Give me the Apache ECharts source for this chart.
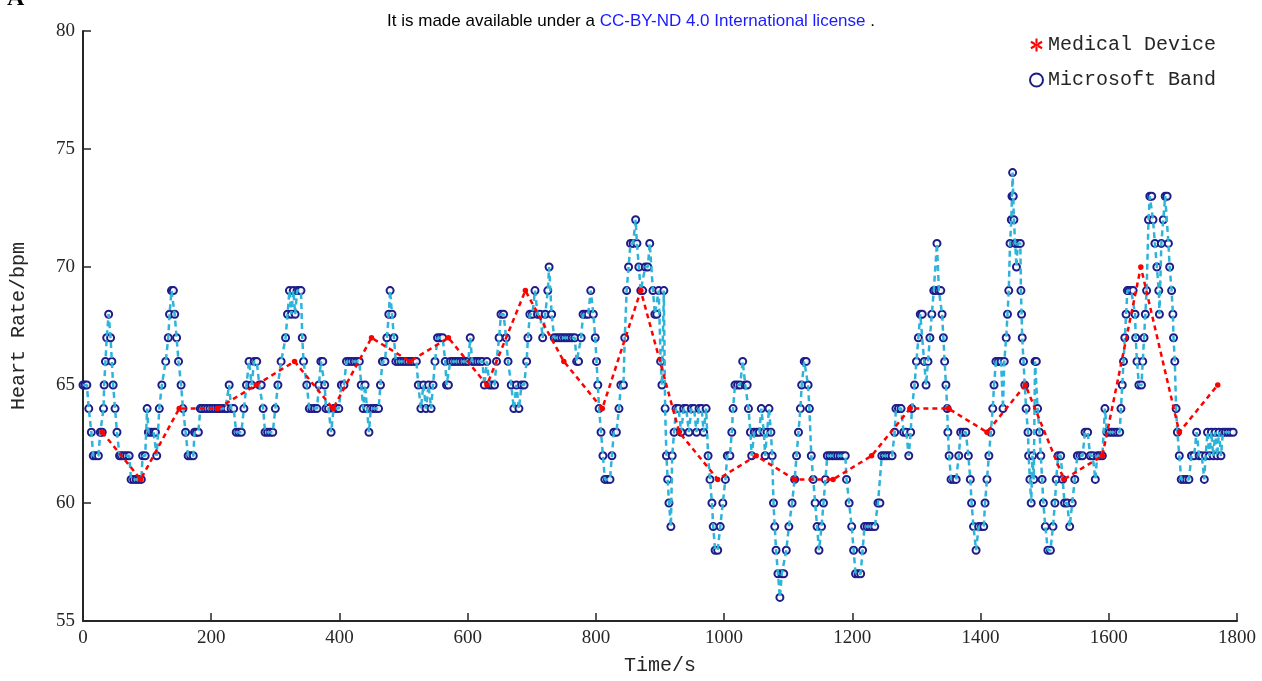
<!DOCTYPE html>
<html>
<head>
<meta charset="utf-8">
<script src="https://cdn.jsdelivr.net/npm/echarts@6/dist/echarts.min.js"></script>
<style>
  html, body { margin: 0; padding: 0; background: #fff; }
  #chart { width: 1262px; height: 681px; }
</style>
</head>
<body>
<div id="chart"></div>
<script>
// Medical device reference readings (one per minute)
const medTime = [30, 90, 150, 210, 270, 330, 390, 450, 510, 570, 630, 690, 750, 810, 870,
  930, 990, 1050, 1110, 1170, 1230, 1290, 1350, 1410, 1470, 1530, 1590, 1650, 1710, 1770];
const medRate = [63, 61, 64, 64, 65, 66, 64, 67, 66, 67, 65, 69, 66, 64, 69,
  63, 61, 62, 61, 61, 62, 64, 64, 63, 65, 61, 62, 70, 63, 65];

// Microsoft Band readings
const bandTime = [
  0, 3, 6, 9, 13, 16, 20, 24, 27, 30, 32, 33, 35, 37, 40, 43, 45, 47, 50, 53, 57, 60, 64, 68, 72, 75, 79, 83, 87, 91, 93, 97,
  100, 102, 106, 110, 113, 115, 119, 123, 129, 133, 135, 138, 141, 143, 146, 149, 153, 156, 160, 164, 168, 172, 174, 177, 180, 183,
  186, 190, 194, 198, 202, 206, 210, 214, 218, 222, 225, 228, 231, 235, 239, 243, 247, 251, 255, 259, 263, 267, 271, 275, 278, 281,
  284, 288, 292, 296, 300, 304, 309, 316, 319, 322, 325, 328, 331, 334, 337, 340, 342, 344, 349, 353, 357, 361, 365, 368, 371, 374,
  377, 379, 383, 387, 391, 395, 399, 403, 407, 411, 415, 419, 423, 427, 431, 434, 437, 440, 443, 446, 449, 453, 457, 461, 464, 467,
  471, 474, 477, 479, 482, 485, 488, 492, 496, 500, 504, 508, 512, 516, 520, 523, 527, 531, 535, 539, 543, 546, 549, 553, 557, 561,
  565, 567, 570, 573, 577, 581, 585, 589, 593, 597, 601, 604, 607, 611, 615, 619, 623, 626, 630, 634, 638, 642, 645, 649, 652, 656,
  660, 663, 668, 672, 676, 680, 684, 688, 692, 694, 697, 701, 705, 709, 713, 717, 721, 725, 727, 731, 735, 739, 743, 747, 751, 755,
  759, 763, 767, 770, 773, 777, 780, 784, 788, 792, 796, 799, 801, 803, 805, 808, 811, 814, 818, 822, 825, 828, 832, 836, 839, 843,
  845, 848, 851, 854, 858, 862, 864, 867, 870, 873, 877, 881, 884, 889, 892, 895, 898, 901, 903, 906, 908, 910, 912, 914, 917, 919,
  922, 925, 929, 933, 937, 941, 945, 949, 953, 957, 961, 965, 968, 972, 975, 978, 981, 983, 986, 990, 994, 998, 1002, 1005, 1009, 1012,
  1014, 1017, 1021, 1025, 1029, 1033, 1036, 1038, 1041, 1043, 1047, 1051, 1055, 1058, 1062, 1064, 1067, 1070, 1073, 1075, 1077, 1079,
  1081, 1084, 1087, 1090, 1093, 1097, 1101, 1106, 1110, 1113, 1116, 1119, 1121, 1125, 1128, 1131, 1133, 1136, 1139, 1142, 1145, 1148,
  1152, 1155, 1158, 1161, 1165, 1169, 1173, 1177, 1181, 1185, 1189, 1191, 1195, 1199, 1202, 1205, 1209, 1213, 1216, 1219, 1223, 1227,
  1231, 1235, 1240, 1243, 1246, 1250, 1254, 1258, 1262, 1266, 1268, 1272, 1276, 1280, 1284, 1288, 1291, 1293, 1297, 1300, 1303, 1306,
  1309, 1312, 1315, 1318, 1321, 1324, 1327, 1330, 1332, 1335, 1338, 1340, 1342, 1344, 1346, 1348, 1349, 1351, 1354, 1358, 1362, 1366,
  1369, 1373, 1377, 1381, 1384, 1386, 1389, 1393, 1397, 1401, 1405, 1407, 1410, 1413, 1416, 1419, 1421, 1424, 1428, 1432, 1435, 1437,
  1440, 1442, 1444, 1446, 1448, 1449, 1450, 1451, 1452, 1454, 1456, 1458, 1462, 1463, 1464, 1465, 1467, 1469, 1471, 1474, 1475, 1477,
  1479, 1481, 1483, 1485, 1487, 1489, 1492, 1494, 1496, 1498, 1501, 1505, 1509, 1513, 1516, 1518, 1521, 1525, 1528, 1531, 1535, 1539,
  1543, 1547, 1551, 1555, 1559, 1563, 1567, 1571, 1575, 1579, 1582, 1586, 1590, 1594, 1597, 1601, 1605, 1609, 1613, 1617, 1619, 1621,
  1623, 1625, 1627, 1629, 1632, 1635, 1638, 1641, 1642, 1644, 1647, 1651, 1653, 1655, 1657, 1659, 1662, 1664, 1667, 1669, 1672, 1675,
  1678, 1679, 1682, 1685, 1688, 1691, 1693, 1695, 1698, 1700, 1701, 1703, 1705, 1707, 1710, 1713, 1717, 1721, 1725, 1729, 1733, 1737,
  1741, 1745, 1749, 1751, 1754, 1757, 1760, 1763, 1766, 1769, 1772, 1775, 1778, 1782, 1786, 1790, 1794
];
const bandRate = [
  65, 65, 65, 64, 63, 62, 62, 62, 63, 63, 64, 65, 66, 67, 68, 67, 66, 65, 64, 63, 62, 62, 62, 62, 62, 61, 61, 61, 61, 61, 62, 62,
  64, 63, 63, 63, 63, 62, 64, 65, 66, 67, 68, 69, 69, 68, 67, 66, 65, 64, 63, 62, 62, 62, 63, 63, 63, 64,
  64, 64, 64, 64, 64, 64, 64, 64, 64, 64, 64, 65, 64, 64, 63, 63, 63, 64, 65, 66, 65, 66, 66, 65, 65, 64,
  63, 63, 63, 63, 64, 65, 66, 67, 68, 69, 68, 69, 68, 69, 69, 69, 67, 66, 65, 64, 64, 64, 64, 65, 66, 66,
  65, 64, 64, 63, 64, 64, 64, 65, 65, 66, 66, 66, 66, 66, 66, 65, 64, 65, 64, 63, 64, 64, 64, 64, 65, 66,
  66, 67, 68, 69, 68, 67, 66, 66, 66, 66, 66, 66, 66, 66, 66, 65, 64, 65, 64, 65, 64, 65, 66, 67, 67, 67,
  66, 65, 65, 66, 66, 66, 66, 66, 66, 66, 66, 67, 66, 66, 66, 66, 66, 65, 66, 65, 65, 65, 66, 67, 68, 68,
  67, 66, 65, 64, 65, 64, 65, 65, 66, 67, 68, 68, 69, 68, 68, 67, 68, 69, 70, 68, 67, 67, 67, 67, 67, 67,
  67, 67, 67, 66, 66, 67, 68, 68, 68, 69, 68, 67, 66, 65, 64, 63, 62, 61, 61, 61, 62, 63, 63, 64, 65, 65,
  67, 69, 70, 71, 71, 72, 71, 70, 69, 69, 70, 70, 71, 69, 68, 68, 69, 66, 65, 69, 64, 62, 61, 60, 59, 62,
  63, 64, 64, 63, 64, 64, 63, 64, 64, 63, 64, 64, 63, 64, 62, 61, 60, 59, 58, 58, 59, 60, 61, 62, 62, 63,
  64, 65, 65, 65, 66, 65, 65, 64, 63, 62, 63, 63, 63, 64, 63, 62, 63, 64, 63, 62, 60, 59,
  58, 57, 56, 57, 57, 58, 59, 60, 61, 62, 63, 64, 65, 66, 66, 65, 64, 62, 61, 60, 59, 58,
  59, 60, 61, 62, 62, 62, 62, 62, 62, 62, 62, 61, 60, 59, 58, 57, 57, 57, 58, 59, 59, 59,
  59, 59, 60, 60, 62, 62, 62, 62, 62, 63, 64, 64, 64, 63, 63, 62, 63, 64, 65, 66, 67, 68,
  68, 66, 65, 66, 67, 68, 69, 69, 71, 69, 69, 68, 67, 66, 65, 64, 63, 62, 61, 61, 61, 62,
  63, 63, 63, 62, 61, 60, 59, 58, 59, 59, 59, 60, 61, 62, 63, 64, 65, 66, 66, 66, 64, 66,
  67, 68, 69, 71, 72, 73, 74, 73, 72, 71, 70, 71, 71, 69, 68, 67, 66, 65, 64, 63, 62, 61,
  60, 62, 61, 66, 66, 64, 63, 62, 61, 60, 59, 58, 58, 59, 60, 61, 62, 62, 61, 60, 60, 59,
  60, 61, 62, 62, 62, 63, 63, 62, 62, 61, 62, 62, 62, 64, 63, 63, 63, 63, 63, 63, 64, 65,
  66, 67, 68, 69, 69, 69, 69, 68, 67, 66, 65, 65, 66, 67, 68, 69, 72, 73, 73, 72, 71, 70,
  69, 68, 71, 72, 73, 73, 71, 70, 69, 68, 67, 66, 64, 63, 62, 61, 61, 61, 61, 62, 62, 63,
  62, 62, 61, 62, 63, 62, 63, 62, 63, 62, 63, 62, 63, 63, 63, 63, 63
];

// Axis ticks
const xTicks = { min: 0, max: 1800, step: 200 };
const yTicks = { min: 55, max: 80, step: 5 };

const pair = (ts, vs) => ts.map((t, i) => [t, vs[i]]);
const bandData = pair(bandTime, bandRate);
const medData = pair(medTime, medRate);

const asterisk = 'path://M4.2,0 L5.8,0 L5.8,10 L4.2,10 Z M8.9,8.2 L9.7,6.8 L1.1,1.8 L0.3,3.2 Z M0.3,6.8 L1.1,8.2 L9.7,3.2 L8.9,1.8 Z';

const NAVY = '#1c1c8a';
const tickFont = { fontFamily: 'Liberation Serif', fontSize: 19, color: '#262626' };
const nameFont = { fontFamily: 'Liberation Mono', fontSize: 20, color: '#262626' };

const chart = echarts.init(document.getElementById('chart'), null, { renderer: 'canvas' });
chart.setOption({
  animation: false,
  backgroundColor: '#fff',
  title: {
    text: '{a|It is made available under a }{b|CC-BY-ND 4.0 International license}{a| .}',
    left: 'center',
    top: 8,
    textStyle: {
      fontWeight: 'normal',
      rich: {
        a: { fontFamily: 'Liberation Sans', fontSize: 17, fontWeight: 'normal', color: '#000' },
        b: { fontFamily: 'Liberation Sans', fontSize: 17, fontWeight: 'normal', color: '#1a1aff' }
      }
    }
  },
  graphic: [{
    type: 'text', left: 7, top: -13,
    style: { text: 'A', font: 'bold 24px "Liberation Serif"', fill: '#000' }
  }],
  legend: {
    orient: 'vertical',
    left: 1024,
    top: 30,
    itemGap: 15,
    itemWidth: 13,
    itemHeight: 13,
    textStyle: { fontFamily: 'Liberation Mono', fontSize: 20, color: '#262626' },
    data: [
      { name: 'Medical Device', icon: asterisk, itemStyle: { color: '#ff0000' } },
      { name: 'Microsoft Band', icon: 'emptyCircle', itemStyle: { color: NAVY, borderColor: NAVY, borderWidth: 2.5 } }
    ]
  },
  grid: { left: 83, right: 25, top: 31, bottom: 60, containLabel: false },
  xAxis: {
    type: 'value',
    min: xTicks.min, max: xTicks.max, interval: xTicks.step,
    name: 'Time/s', nameLocation: 'middle', nameGap: 35,
    nameTextStyle: nameFont,
    axisLine: { show: true, lineStyle: { color: '#262626', width: 2 } },
    axisTick: { show: true, inside: true, length: 8, lineStyle: { color: '#262626', width: 1.5 } },
    axisLabel: Object.assign({ margin: 8, formatter: v => String(v) }, tickFont),
    splitLine: { show: false }
  },
  yAxis: {
    type: 'value',
    min: yTicks.min, max: yTicks.max, interval: yTicks.step,
    name: 'Heart Rate/bpm', nameLocation: 'middle', nameGap: 54,
    nameTextStyle: nameFont,
    axisLine: { show: true, lineStyle: { color: '#262626', width: 2 } },
    axisTick: { show: true, inside: true, length: 8, lineStyle: { color: '#262626', width: 1.5 } },
    axisLabel: Object.assign({ margin: 8, formatter: v => String(v) }, tickFont),
    splitLine: { show: false }
  },
  series: [
    {
      name: 'Microsoft Band',
      type: 'scatter',
      data: bandData,
      symbol: 'circle',
      symbolSize: 7,
      itemStyle: { color: 'rgba(255,255,255,0.9)', borderColor: NAVY, borderWidth: 2, opacity: 1 },
      z: 2
    },
    {
      name: 'band-trace',
      type: 'line',
      data: bandData,
      showSymbol: false,
      lineStyle: { color: '#2eb3d9', width: 2.5, type: [6, 4] },
      z: 3
    },
    {
      name: 'Medical Device',
      type: 'line',
      data: medData,
      symbol: 'circle',
      symbolSize: 5.5,
      showSymbol: true,
      itemStyle: { color: '#ff0000' },
      lineStyle: { color: '#ff0000', width: 2.5, type: [5, 4] },
      z: 4
    }
  ]
});
</script>
</body>
</html>
